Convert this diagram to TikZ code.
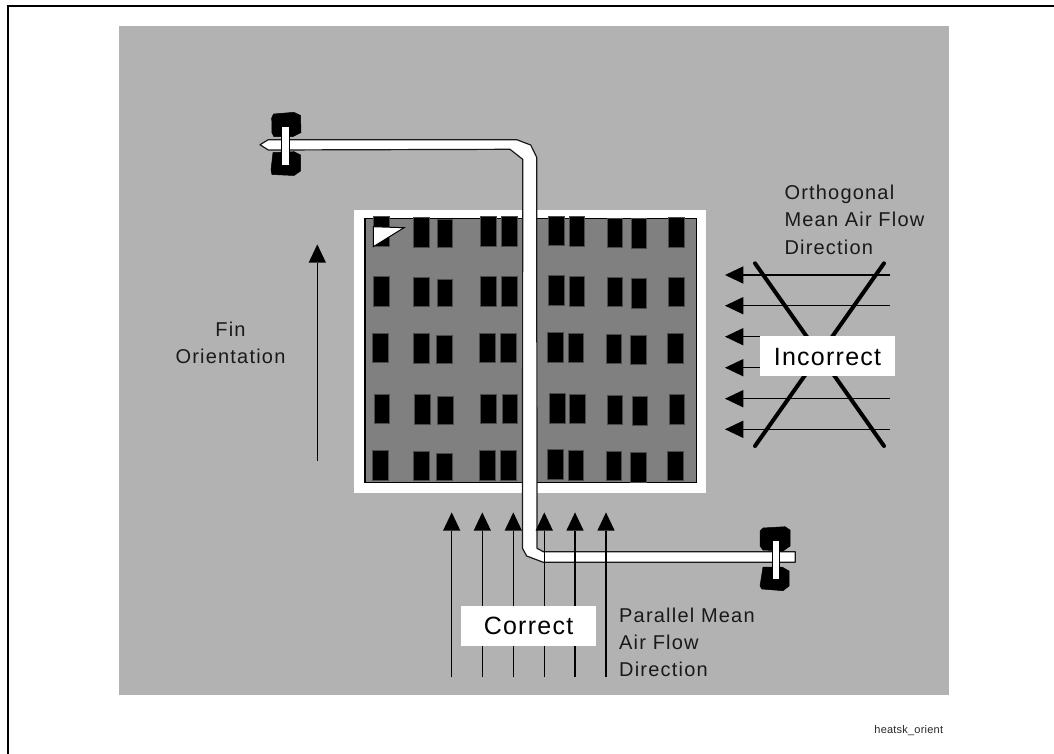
\documentclass[tikz,border=0pt]{standalone}
\usepackage{fontspec}
\setmainfont{Liberation Sans}
\newfontfamily\labelfont[LetterSpace=6]{Liberation Sans}
\newfontfamily\bigfont[LetterSpace=5]{Liberation Sans}
\newfontfamily\tagfont[LetterSpace=2]{Liberation Sans}
\definecolor{bggray}{HTML}{B2B2B2}
\definecolor{plategray}{HTML}{808080}
\tikzset{
  txt/.style={inner sep=0pt,anchor=base west,font=\labelfont\fontsize{20}{20}\selectfont,text=black!90},
  bigtxt/.style={inner sep=0pt,anchor=base,font=\bigfont\fontsize{25}{25}\selectfont},
  fin/.style={fill=black,draw=black!70,line width=0.5pt},
  shaft/.style={line width=1.5pt,draw=black},
  headtip/.style={fill=black},
  pipe/.style={fill=white,draw=black!90,line width=1.2pt,line join=round},
  lobe/.style={fill=black,draw=black,line width=0.5pt,line join=round},
  bar/.style={fill=white,draw=black,line width=0.8pt},
  crossline/.style={line width=4pt,line cap=round,draw=black},
  frameline/.style={line width=2pt,draw=black}
}
\newcommand{\finrect}[4]{\path[fin] (#1,#3) rectangle (#2,#4);}
\newcommand{\upflow}[3]{%
  \coordinate (a) at (#1,#2); \coordinate (b) at (#1,#3);
  \draw[shaft] (a) -- (b);
  \path[headtip] (#1,#3-18.3) -- (#1+8.7,#3) -- (#1-8.7,#3) -- cycle;}
\newcommand{\leftflow}[1]{%
  \coordinate (a) at (890,#1); \coordinate (b) at (743.3,#1);
  \draw[shaft] (a) -- (b);
  \path[headtip] (725,#1) -- (743.3,#1-8.7) -- (743.3,#1+8.7) -- cycle;}
\begin{document}
\begin{tikzpicture}[x=1pt,y=-1pt]
\useasboundingbox (0,0) rectangle (1054,753);
% frame
\coordinate (fa) at (8,753); \coordinate (fb) at (8,6); \coordinate (fc) at (1054,6);
\draw[frameline,line cap=rect] (fa) -- (fb) -- (fc);
\fill[bggray] (119,26) rectangle (949,694.7);
\fill[white] (354,210) rectangle (706,493);
\path[fill=plategray,draw=black,line width=1.2pt] (365,218.3) rectangle (696.7,482.7);
% fins
\foreach \rowtop/\dx in {216.7/0,276.3/0,333/-0.8,394/0.7,450.3/-0.8}{
  \foreach \xa/\xb/\ta/\tb in {
    373.3/389/0/0,
    413.7/429.7/0.7/0.7,
    437/452.7/2.7/0.7,
    480/496/0/0,
    501.3/517/0/0,
    548.3/564.3/-0.7/-0.7,
    569/584.3/0/0,
    607/622/1.4/0.4,
    631.3/646.7/2/2,
    668.3/684/0.7/0.7}{
    \finrect{\xa+\dx}{\xb+\dx}{\rowtop+\ta}{\rowtop+29.7+\tb}
  }
}
% flag
\path[fill=white,draw=black,line width=1pt,line join=miter] (373.3,226.7) -- (404,227.7) -- (373.3,246.7) -- cycle;
% fin orientation arrow
\upflow{317.3}{460.7}{262.7}
% pipe
\path[pipe] (260,144.7) -- (268.3,139.7) -- (516.7,139.7) -- (530.7,145) -- (536.7,157.3)
  -- (537,548.3) -- (543.3,551.7) -- (795.3,551.7) -- (795.3,562.3) -- (543.3,562.3)
  -- (526.7,556) -- (522.5,548.3) -- (522.7,159.3) -- (510,149.3) -- (268.3,150) -- cycle;
% bottom flow arrows
\foreach \x in {451.7,482.3,513.3,544.3,575,606}{\upflow{\x}{677.3}{530.7}}
% top clamp
\path[lobe] (273.5,114) -- (294,112.3) -- (300.5,115.5) -- (301,132.5) -- (293,136.5) -- (274,136.7) -- (272,133) -- (271.7,118) -- cycle;
\path[lobe] (273,152.5) -- (294,151.7) -- (300.5,155) -- (300.5,171) -- (294,175.5) -- (272,174.5) -- (271,170) -- cycle;
\path[bar] (281.7,126) rectangle (289,165);
% bottom clamp
\path[lobe] (763,528) -- (785,526.7) -- (790,530) -- (790,546) -- (783,551) -- (763,550) -- (760,546) -- (760,531) -- cycle;
\path[lobe] (763,567) -- (782,567) -- (789,571) -- (789,586) -- (783,590.7) -- (762,589) -- (760,586) -- cycle;
\path[bar] (772,540) rectangle (779.3,579);
% orthogonal flow arrows
\foreach \y in {275,305.7,336.7,367.7,398.7,429.3}{\leftflow{\y}}
% cross
\coordinate (xa) at (755,263.3); \coordinate (xb) at (884,446);
\coordinate (xc) at (884,263.3); \coordinate (xd) at (755,446);
\draw[crossline] (xa) -- (xb);
\draw[crossline] (xc) -- (xd);
% label boxes
\fill[white] (760,336) rectangle (895,375.7);
\fill[white] (461,606) rectangle (596,645.7);
\node[bigtxt] (incorrect) at (827.5,365) {Incorrect};
\node[bigtxt] (correct) at (528.5,634) {Correct};
% texts
\node[txt] (o1) at (784.3,199) {Orthogonal};
\node[txt] (o2) at (784.3,226.7) {Mean Air Flow};
\node[txt] (o3) at (784.3,254) {Direction};
\node[txt] (p1) at (619,622.3) {Parallel Mean};
\node[txt] (p2) at (619,649.5) {Air Flow};
\node[txt] (p3) at (619,676.7) {Direction};
\node[txt,anchor=base] (f1) at (230.5,336.7) {Fin};
\node[txt,anchor=base] (f2) at (230.5,363.3) {Orientation};
\node[inner sep=0pt,anchor=base east,font=\tagfont\fontsize{11}{11}\selectfont,text=black!85] (tag) at (943.3,733.3) {heatsk\_orient};
\end{tikzpicture}
\end{document}
